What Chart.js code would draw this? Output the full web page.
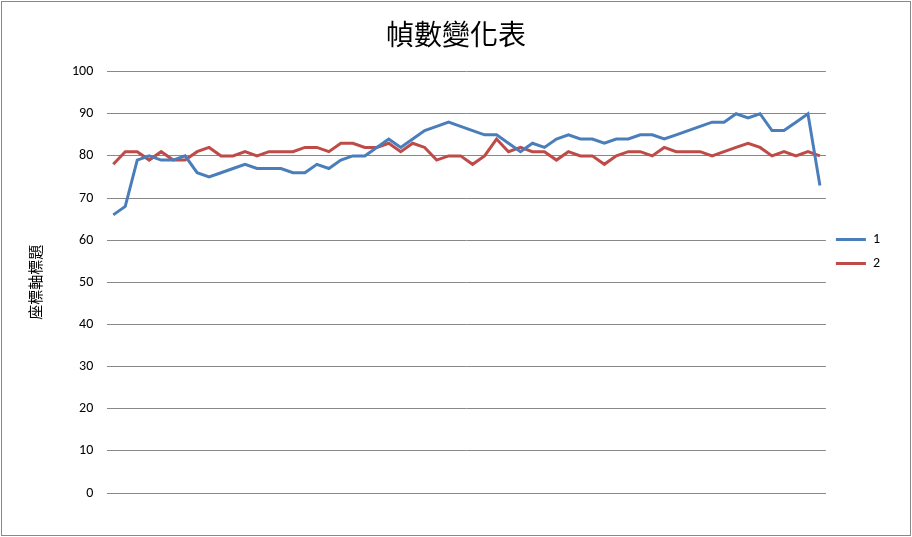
<!DOCTYPE html>
<html>
<head>
<meta charset="utf-8">
<script src="https://cdn.jsdelivr.net/npm/chart.js@4"></script>
<style>
  body { margin: 0; background: #fff; }
  #wrap { position: absolute; left: 1px; top: 1px; width: 908px; height: 533px; border: 1px solid #888; }
</style>
</head>
<body>
<div id="wrap"><canvas id="chart" width="908" height="533"></canvas></div>
<script>
// Values
const series1 = [66,68,79,80,79,79,80,76,75,76, 77,78,77,77,77,76,76,78,77,79,
                 80,80,82,84,82,84,86,87,88,87, 86,85,85,83,81,83,82,84,85,84,
                 84,83,84,84,85,85,84,85,86,87, 88,88,90,89,90,86,86,88,90,73];
const series2 = [78,81,81,79,81,79,79,81,82,80, 80,81,80,81,81,81,82,82,81,83,
                 83,82,82,83,81,83,82,79,80,80, 78,80,84,81,82,81,81,79,81,80,
                 80,78,80,81,81,80,82,81,81,81, 80,81,82,83,82,80,81,80,81,80];
const labels = series1.map((v, i) => String(i + 1));

const ctx = document.getElementById('chart').getContext('2d');
new Chart(ctx, {
    type: 'line',
    data: {
        labels: labels,
        datasets: [
            { label: '1', data: series1, borderColor: '#4a7ebb', borderWidth: 3, pointRadius: 0, tension: 0 },
            { label: '2', data: series2, borderColor: '#be4b48', borderWidth: 3, pointRadius: 0, tension: 0 }
        ]
    },
    options: {
        responsive: false,
        animation: false,
        layout: { padding: { left: 20, right: 20, top: 0, bottom: 34 } },
        plugins: {
            title: {
                display: true, text: '幀數變化表', color: '#000',
                font: { family: '"Noto Sans CJK TC"', size: 28, weight: 'normal' },
                padding: { top: 16, bottom: 20 }
            },
            legend: {
                position: 'right',
                labels: {
                    color: '#000', font: { family: 'Calibri, "Liberation Sans"', size: 14 },
                    boxWidth: 30, boxHeight: 0, padding: 10,
                    generateLabels: chart => chart.data.datasets.map((d, i) => ({
                        text: d.label, strokeStyle: d.borderColor, fillStyle: d.borderColor,
                        lineWidth: 3, datasetIndex: i
                    }))
                }
            }
        },
        scales: {
            x: {
                offset: true,
                ticks: { display: false },
                grid: { display: false },
                border: { color: '#888' }
            },
            y: {
                min: 0, max: 100,
                ticks: { stepSize: 10, color: '#000', font: { family: 'Calibri, "Liberation Sans"', size: 14 }, padding: 14 },
                grid: { color: '#888', drawTicks: false },
                border: { display: false },
                title: { display: true, text: '座標軸標題', color: '#000', font: { family: '"Noto Sans CJK TC"', size: 15 }, padding: { bottom: 14 } }
            }
        }
    }
});
</script>
</body>
</html>
